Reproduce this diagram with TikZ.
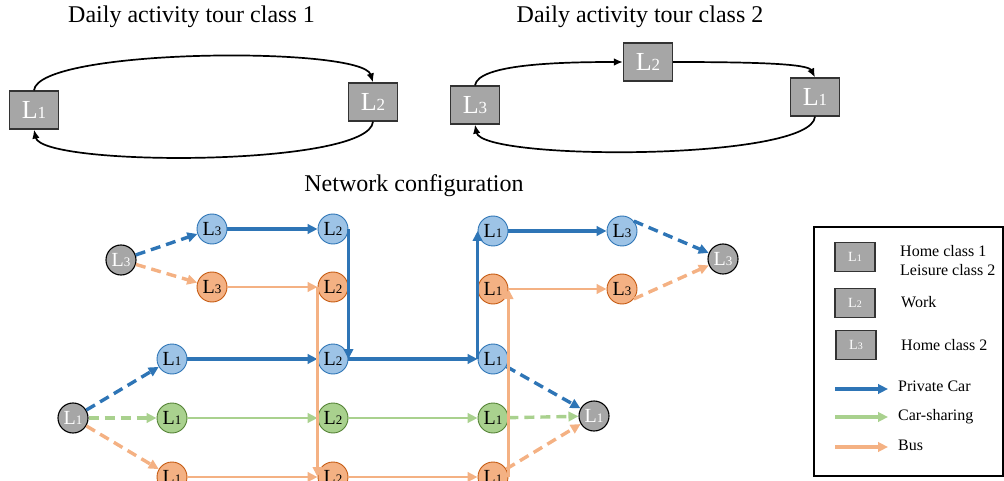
\documentclass[tikz,border=0pt]{standalone}
\usepackage{fontspec}
\setmainfont{Liberation Serif}
\usetikzlibrary{arrows.meta}
\definecolor{cblue}{HTML}{2E75B6}
\definecolor{cbluef}{HTML}{9DC3E6}
\definecolor{cblueb}{HTML}{2E75B6}
\definecolor{corange}{HTML}{F4B183}
\definecolor{corangeb}{HTML}{C55A11}
\definecolor{cgreen}{HTML}{A9D18E}
\definecolor{cgreenb}{HTML}{548235}
\definecolor{cgrey}{HTML}{A6A6A6}
\newcommand{\Lsub}[3]{{\fontsize{#1}{#1}\selectfont L}{\fontsize{#2}{#2}\selectfont #3}}
\newcommand{\Lc}[1]{\Lsub{20}{13}{#1}}
\newcommand{\Lb}[1]{\Lsub{26}{17}{#1}}
\newcommand{\Ll}[1]{\Lsub{14}{10}{#1}}
\begin{document}
\begin{tikzpicture}[x=1pt,y=-1pt,
 bigbox/.style={draw=black!80, fill=cgrey, line width=1.2pt, minimum width=49pt, minimum height=38pt, inner sep=0pt, text=white},
 legbox/.style={draw=black!80, fill=cgrey, line width=1.2pt, minimum width=40pt, minimum height=29pt, inner sep=0pt, text=white},
 circ/.style={circle, minimum size=30pt, inner sep=0pt, line width=0.9pt},
 bc/.style={circ, draw=cblueb, fill=cbluef},
 oc/.style={circ, draw=corangeb, fill=corange},
 gc/.style={circ, draw=cgreenb, fill=cgreen},
 kc/.style={circ, draw=black, fill=cgrey, text=white, line width=1.1pt},
 tour/.style={line width=1.7pt, -{Latex[length=9pt,width=7.5pt]}},
 carline/.style={draw=cblue, line width=3.2pt, -{Triangle[length=10pt,width=9.5pt]}},
 busline/.style={draw=corange, line width=2.8pt, -{Triangle[length=10pt,width=9.5pt]}},
 shareline/.style={draw=cgreen, line width=2.8pt, -{Triangle[length=10pt,width=9.5pt]}},
 dsh/.style={dash pattern=on 10pt off 6pt, line width=3.4pt},
 title/.style={anchor=base, font=\fontsize{24}{28}\selectfont},
 legtext/.style={anchor=base west, font=\fontsize{16}{19}\selectfont, inner sep=0pt}
]
\useasboundingbox (0,0) rectangle (1004,481);

% ---- Tour class 1 ----
\node[title] (t1) at (191.5,23) {Daily activity tour class 1};
\node[bigbox] (aL1) at (34,110) {\Lb{1}};
\node[bigbox] (aL2) at (373,102) {\Lb{2}};
\draw[tour] (aL1.north) .. controls (38,48) and (362,46) .. (aL2.north);
\draw[tour] (aL2.south) .. controls (370,167) and (42,167) .. (aL1.south);

% ---- Tour class 2 ----
\node[title] (t2) at (640,23) {Daily activity tour class 2};
\node[bigbox] (cL3) at (475,105) {\Lb{3}};
\node[bigbox] (cL2) at (648,62) {\Lb{2}};
\node[bigbox] (cL1) at (815,97) {\Lb{1}};
\draw[tour] (cL3.north) .. controls (478,64) and (560,62) .. (cL2.west);
\draw[tour] (cL2.east) .. controls (760,62) and (808,64) .. (cL1.north);
\draw[tour] (cL1.south) .. controls (812,161) and (482,161) .. (cL3.south);

% ---- Network ----
\node[title] (t3) at (414,192) {Network configuration};

\node[kc] (gL3) at (121,260) {\Lc{3}};
\node[bc] (bL3) at (212,229) {\Lc{3}};
\node[bc] (bL2a) at (333,229) {\Lc{2}};
\node[oc] (oL3) at (212,287) {\Lc{3}};
\node[oc] (oL2a) at (333,287) {\Lc{2}};
\node[bc] (bL1) at (172,359) {\Lc{1}};
\node[bc] (bL2b) at (333,359) {\Lc{2}};
\node[kc] (gL1) at (73,418) {\Lc{1}};
\node[gc] (nL1) at (172,418) {\Lc{1}};
\node[gc] (nL2) at (333,418) {\Lc{2}};
\node[oc] (oL1) at (172,477) {\Lc{1}};
\node[oc] (oL2c) at (333,477) {\Lc{2}};

\node[bc] (bL1a) at (493,231) {\Lc{1}};
\node[bc] (bL3r) at (622,231) {\Lc{3}};
\node[oc] (oL1b) at (493,289) {\Lc{1}};
\node[oc] (oL3r) at (622,289) {\Lc{3}};
\node[bc] (bL1c) at (493,359) {\Lc{1}};
\node[kc] (gL1r) at (594,416) {\Lc{1}};
\node[gc] (nL1r) at (493,418) {\Lc{1}};
\node[oc] (oL1c) at (493,477) {\Lc{1}};
\node[kc] (gL3r) at (723,259) {\Lc{3}};

% private car
\draw[carline,dsh] (gL3) -- (bL3);
\draw[carline] (bL3) -- (bL2a);
\draw[carline] (bL2a.east) -- (bL2b.east);
\draw[carline,dsh] (gL1) -- (bL1);
\draw[carline] (bL1) -- (bL2b);
\draw[carline] (bL2b.east) -- (bL1c.west);
\draw[carline] (bL1c.west) -- (bL1a.west);
\draw[carline] (bL1a) -- (bL3r);
\draw[carline,dsh] (bL3r.40) -- (gL3r);
\draw[carline,dsh] (bL1c) -- (gL1r);

% car-sharing
\draw[shareline,dsh] (gL1) -- (nL1);
\draw[shareline] (nL1) -- (nL2);
\draw[shareline] (nL2) -- (nL1r);
\draw[shareline,dsh] (nL1r) -- (gL1r);

% bus
\draw[busline,dsh] (gL3) -- (oL3);
\draw[busline] (oL3) -- (oL2a.west);
\draw[busline] (oL2a.west) -- (oL2c.west);
\draw[busline,dsh] (gL1) -- (oL1);
\draw[busline] (oL1) -- (oL2c.west);
\draw[busline] (oL2c) -- (oL1c);
\draw[busline] (oL1c.east) -- (oL1b.east);
\draw[busline] (oL1b.east) -- (oL3r);
\draw[busline,dsh] (oL3r.-40) -- (gL3r);
\draw[busline,dsh] (oL1c) -- (gL1r);

% ---- Legend ----
\draw[line width=1.2pt] (814,227) rectangle (1003,476);
\node[legbox] (kL1) at (855,257) {\Ll{1}};
\node[legbox] (kL2) at (855,303) {\Ll{2}};
\node[legbox] (kL3) at (856,345) {\Ll{3}};
\node[legtext] (h1) at (900,256) {Home class 1};
\node[legtext] (h2) at (900,276) {Leisure class 2};
\node[legtext] (w) at (901,307) {Work};
\node[legtext] (h3) at (901,350) {Home class 2};
\coordinate (pa) at (835,389); \coordinate (pb) at (888,389);
\coordinate (sa) at (835,417); \coordinate (sb) at (888,417);
\coordinate (ba) at (835,447); \coordinate (bb) at (888,447);
\draw[carline, line width=4.5pt] (pa) -- (pb);
\draw[shareline, line width=4.5pt] (sa) -- (sb);
\draw[busline, line width=4.5pt] (ba) -- (bb);
\node[legtext] (lp) at (898,391) {Private Car};
\node[legtext] (ls) at (898,420) {Car-sharing};
\node[legtext] (lb) at (898,450) {Bus};
\end{tikzpicture}
\end{document}
